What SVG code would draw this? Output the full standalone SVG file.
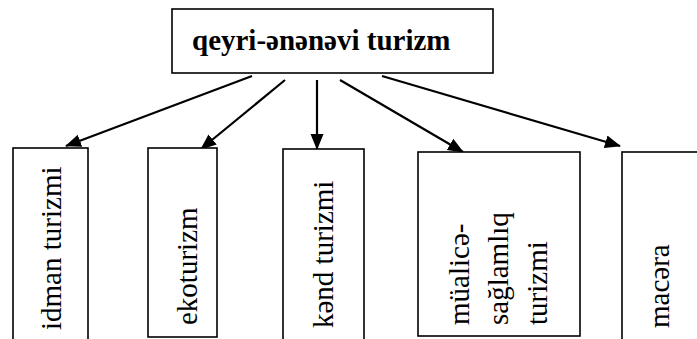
<svg xmlns="http://www.w3.org/2000/svg" width="697" height="339" viewBox="0 0 697 339">
<style>
.box{fill:#fff;stroke:#000;stroke-width:1.6}
.t{font-family:'Liberation Serif','Times New Roman',serif;font-size:29px;fill:#000}
.b{font-weight:bold}
.c{stroke:#000;stroke-width:2.2;fill:none}
</style>
<defs>
<marker id="ah" markerWidth="18" markerHeight="14" refX="15" refY="6.5" orient="auto" markerUnits="userSpaceOnUse">
<path d="M0,0 L16,6.5 L0,13 Z" fill="#000"/>
</marker>
</defs>
<rect width="697" height="339" fill="#fff"/>
<g id="connectors">
<line class="c" x1="252" y1="76" x2="66" y2="146" marker-end="url(#ah)"/>
<line class="c" x1="285" y1="80" x2="201" y2="149" marker-end="url(#ah)"/>
<line class="c" x1="317" y1="80" x2="317" y2="149" marker-end="url(#ah)"/>
<line class="c" x1="340" y1="80" x2="463" y2="152" marker-end="url(#ah)"/>
<line class="c" x1="382" y1="76" x2="620" y2="146" marker-end="url(#ah)"/>
</g>
<g id="root">
<rect class="box" x="172" y="9" width="321" height="64"/>
<text class="t b" x="192" y="50">qeyri-ənənəvi turizm</text>
</g>
<g id="idman">
<rect class="box" x="13" y="148" width="75" height="200"/>
<text class="t" transform="translate(61,330) rotate(-90)">idman turizmi</text>
</g>
<g id="eko">
<rect class="box" x="148" y="148" width="69" height="189"/>
<text class="t" transform="translate(197,325) rotate(-90)">ekoturizm</text>
</g>
<g id="kend">
<rect class="box" x="283" y="149" width="81" height="200"/>
<text class="t" transform="translate(333,328) rotate(-90)">kənd turizmi</text>
</g>
<g id="mualice">
<rect class="box" x="418" y="152" width="162" height="184"/>
<text class="t" transform="translate(469,325) rotate(-90)">müalicə-</text>
<text class="t" transform="translate(508,325) rotate(-90)">sağlamlıq</text>
<text class="t" transform="translate(547,325) rotate(-90)">turizmi</text>
</g>
<g id="macera">
<rect class="box" x="622" y="152" width="100" height="200"/>
<text class="t" transform="translate(669,328) rotate(-90)">macəra</text>
</g>
</svg>
